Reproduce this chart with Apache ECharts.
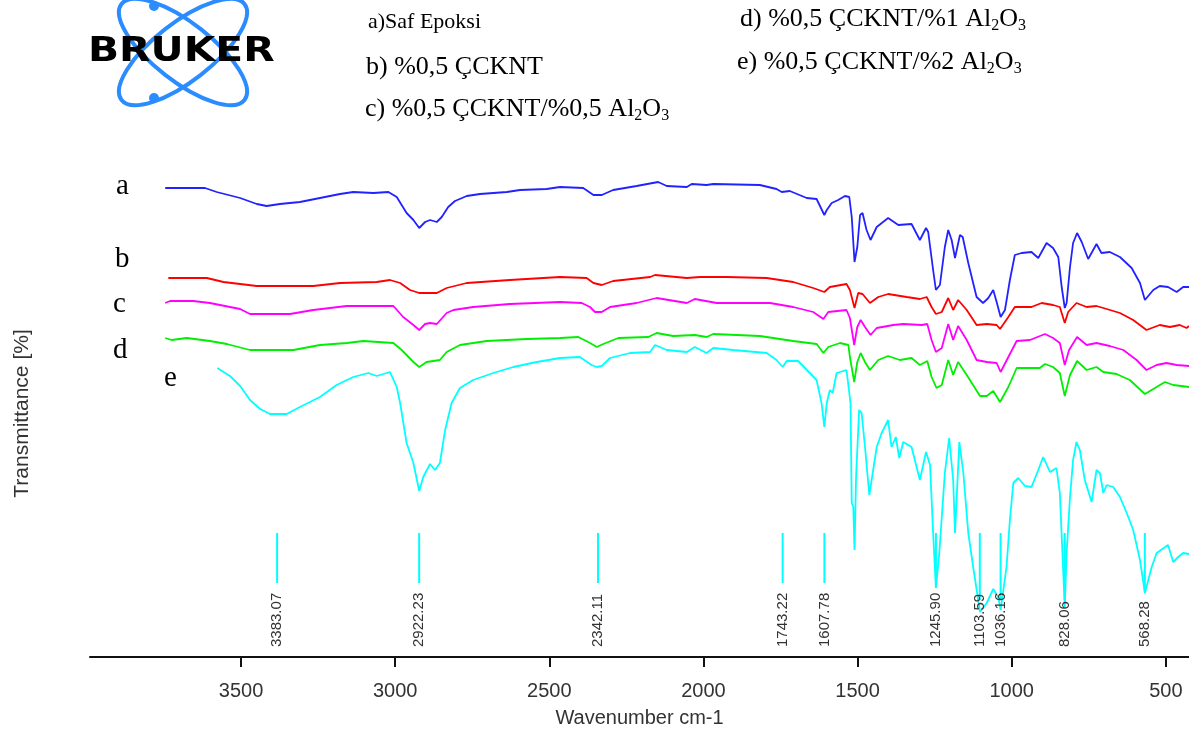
<!DOCTYPE html>
<html>
<head>
<meta charset="utf-8">
<script src="https://cdn.jsdelivr.net/npm/echarts@6/dist/echarts.min.js"></script>
<style>
html,body{margin:0;padding:0;background:#fff;}
#chart{width:1189px;height:737px;}
</style>
</head>
<body>
<div id="chart"></div>
<script>
// ---- DATA (wavenumber cm-1, transmittance in arbitrary plot units) ----
const seriesA = [[3746,469],[3617,469],[3579,465],[3503,459],[3449,453],[3417,451],[3374,453],[3309,455],[3244,459],[3179,463],[3136,465],[3071,464],[3022,465],[2995,460],[2979,452],[2963,444],[2941,437],[2922,429],[2903,435],[2887,437],[2865,435],[2849,440],[2828,450],[2806,456],[2768,461],[2725,463],[2638,465],[2595,467],[2509,468],[2465,470],[2390,469],[2357,462],[2330,462],[2293,467],[2217,471],[2147,475],[2119,471],[2054,470],[2038,473],[1990,472],[1968,473],[1817,472],[1763,468],[1746,465],[1720,466],[1665,459],[1633,458],[1608,442],[1600,447],[1584,454],[1563,457],[1541,461],[1527,460],[1519,440],[1510,395],[1501,410],[1492,442],[1484,444],[1471,427],[1458,417],[1438,430],[1401,439],[1368,432],[1325,433],[1298,417],[1278,429],[1271,425],[1255,387],[1246,367],[1233,372],[1217,410],[1206,427],[1195,417],[1184,399],[1168,422],[1159,420],[1141,394],[1114,360],[1093,354],[1076,359],[1060,367],[1049,355],[1036,340],[1022,347],[1006,377],[990,402],[968,404],[936,405],[914,399],[887,414],[866,409],[849,400],[838,370],[828,349],[822,354],[811,390],[801,414],[788,424],[773,415],[752,398],[725,413],[709,404],[682,405],[649,400],[611,389],[584,374],[568,357],[541,367],[520,371],[493,370],[465,365],[444,370],[425,370]];
const seriesB = [[3736,379],[3611,379],[3557,375],[3449,371],[3266,371],[3179,374],[3060,375],[3017,377],[2984,374],[2952,367],[2922,364],[2865,364],[2833,369],[2768,374],[2628,377],[2465,380],[2379,379],[2357,374],[2330,372],[2293,376],[2173,380],[2157,382],[2054,379],[2011,380],[1925,380],[1795,379],[1709,375],[1644,369],[1608,365],[1590,370],[1536,373],[1525,367],[1510,349],[1498,364],[1484,363],[1460,354],[1433,360],[1401,363],[1341,360],[1298,358],[1276,360],[1260,350],[1246,343],[1227,345],[1206,359],[1190,347],[1174,357],[1146,347],[1114,332],[1081,333],[1049,332],[1038,328],[1011,340],[990,350],[936,350],[903,354],[866,352],[844,350],[828,334],[817,345],[790,354],[757,350],[725,351],[692,348],[649,344],[606,337],[563,327],[520,332],[487,330],[455,332],[433,329],[425,331]];
const seriesC = [[3746,354],[3730,356],[3655,356],[3601,354],[3503,348],[3471,343],[3341,343],[3266,347],[3157,351],[3006,351],[2974,340],[2941,332],[2922,327],[2903,333],[2887,334],[2865,333],[2833,344],[2811,347],[2747,350],[2628,353],[2465,355],[2395,354],[2368,350],[2352,345],[2330,345],[2303,350],[2217,354],[2152,359],[2054,354],[2028,358],[1957,354],[1784,354],[1709,350],[1644,345],[1611,338],[1595,345],[1536,347],[1525,339],[1511,312],[1501,330],[1490,337],[1476,330],[1458,322],[1438,329],[1384,332],[1352,333],[1292,332],[1274,333],[1260,317],[1246,305],[1227,309],[1206,333],[1190,317],[1174,331],[1146,317],[1114,297],[1081,295],[1049,294],[1036,285],[1011,300],[984,316],[941,317],[892,323],[866,319],[844,314],[828,292],[814,307],[788,320],[757,312],[725,314],[682,311],[638,307],[595,297],[563,287],[530,292],[498,294],[465,292],[425,291]];
const seriesD = [[3746,319],[3725,317],[3676,319],[3601,316],[3546,313],[3471,307],[3330,307],[3244,312],[3157,314],[3103,316],[3006,314],[2979,307],[2941,295],[2922,290],[2898,295],[2855,297],[2833,305],[2790,312],[2703,316],[2573,318],[2465,319],[2406,320],[2368,314],[2346,310],[2325,313],[2276,319],[2179,320],[2152,324],[2098,321],[2028,322],[1990,320],[1968,323],[1817,321],[1709,316],[1633,313],[1611,304],[1595,310],[1557,314],[1530,312],[1525,300],[1511,275],[1501,295],[1490,304],[1476,295],[1460,287],[1433,297],[1401,301],[1363,297],[1325,299],[1298,292],[1274,296],[1260,280],[1244,269],[1227,272],[1206,297],[1190,282],[1174,295],[1146,282],[1103,261],[1081,261],[1060,266],[1038,255],[1011,270],[984,289],[909,289],[892,293],[866,290],[844,284],[828,261],[811,282],[788,296],[757,287],[725,290],[703,285],[660,283],[617,277],[568,263],[530,270],[503,275],[476,272],[425,270]];
const seriesE = [[3577,289],[3536,281],[3503,271],[3471,257],[3438,248],[3406,243],[3383,243],[3352,243],[3309,250],[3244,260],[3190,272],[3136,280],[3087,284],[3060,281],[3017,285],[2995,270],[2984,254],[2963,214],[2941,194],[2922,166],[2909,180],[2887,193],[2871,187],[2855,194],[2838,227],[2817,254],[2790,269],[2747,277],[2682,284],[2617,290],[2541,295],[2465,299],[2401,300],[2363,292],[2346,290],[2330,291],[2303,299],[2238,304],[2173,305],[2157,312],[2119,307],[2054,305],[2028,310],[1990,304],[1968,309],[1903,307],[1795,304],[1763,297],[1743,290],[1730,296],[1693,296],[1633,277],[1617,254],[1608,230],[1600,254],[1590,267],[1581,264],[1568,284],[1536,287],[1523,254],[1519,154],[1514,150],[1510,107],[1505,180],[1495,247],[1487,244],[1476,210],[1462,162],[1451,184],[1438,210],[1422,224],[1401,237],[1390,210],[1376,220],[1365,199],[1352,215],[1325,210],[1298,177],[1278,205],[1265,192],[1255,124],[1246,69],[1235,104],[1217,184],[1203,219],[1190,177],[1184,124],[1170,215],[1157,184],[1141,124],[1125,90],[1103,45],[1081,54],[1060,68],[1044,60],[1036,47],[1017,90],[1006,137],[995,174],[979,179],[957,171],[936,170],[914,187],[898,200],[876,185],[855,189],[844,164],[828,50],[822,104],[811,160],[801,197],[790,215],[779,207],[763,177],[741,155],[725,187],[714,184],[703,164],[692,172],[671,170],[649,160],[627,144],[606,127],[584,97],[568,64],[546,90],[530,104],[493,112],[476,95],[460,100],[444,104],[425,103]];
const peakWavenumbers = [3383.07, 2922.23, 2342.11, 1743.22, 1607.78, 1245.90, 1103.59, 1036.16, 828.06, 568.28];
const xTickValues = [500, 1000, 1500, 2000, 2500, 3000, 3500];
const seriesLetters = ['a', 'b', 'c', 'd', 'e'];
const legendTexts = [
  {id: 'a', parts: [['n', 'a)Saf Epoksi']]},
  {id: 'b', parts: [['n', 'b) %0,5 ÇCKNT']]},
  {id: 'c', parts: [['n', 'c) %0,5 ÇCKNT/%0,5 Al'], ['s', '2'], ['n', 'O'], ['s', '3']]},
  {id: 'd', parts: [['n', 'd) %0,5 ÇCKNT/%1 Al'], ['s', '2'], ['n', 'O'], ['s', '3']]},
  {id: 'e', parts: [['n', 'e) %0,5 ÇCKNT/%2 Al'], ['s', '2'], ['n', 'O'], ['s', '3']]}
];
const xAxisTitle = 'Wavenumber cm-1';
const yAxisTitle = 'Transmittance [%]';
const logoText = 'BRUKER';

// ---- LAYOUT / STYLE ----
const X_MIN = 425, X_MAX = 3990, Y_MIN = 0, Y_MAX = 487;
const MARK_TOP = 124, MARK_BOTTOM = 74, MARK_LOWEST = 57, LABEL_BASE = 10;
const COLORS = ['#2222ff', '#ff0000', '#ff00ff', '#00ee00', '#00ffff'];
const allSeries = [seriesA, seriesB, seriesC, seriesD, seriesE];

function traceValueAt(data, w) {
  for (let i = 0; i < data.length - 1; i++) {
    const p = data[i], q = data[i + 1];
    if ((w <= p[0] && w >= q[0])) {
      const t = (p[0] - w) / (p[0] - q[0] || 1);
      return p[1] + (q[1] - p[1]) * t;
    }
  }
  return Infinity;
}

const serif = '"Liberation Serif", "Times New Roman", serif';
const sans = '"Liberation Sans", Arial, sans-serif';

// legend text graphics
const legendPos = {
  a: {x: 368, y: 7, size: 22},
  b: {x: 366, y: 52, size: 26},
  c: {x: 365, y: 94, size: 26},
  d: {x: 740, y: 4, size: 26},
  e: {x: 737, y: 47, size: 26}
};
const legendGraphics = legendTexts.map(function (lt) {
  const p = legendPos[lt.id];
  const txt = lt.parts.map(function (pt) { return '{' + pt[0] + '|' + pt[1] + '}'; }).join('');
  return {
    type: 'text', x: p.x, y: p.y, silent: true,
    style: {
      text: txt, align: 'left', verticalAlign: 'top', fill: '#000',
      rich: {
        n: {fontFamily: serif, fontSize: p.size, lineHeight: 30, fill: '#000'},
        s: {fontFamily: serif, fontSize: 16, lineHeight: 16, verticalAlign: 'bottom', fill: '#000'}
      }
    }
  };
});

const letterPos = [[116, 186], [115, 259], [113, 304], [113, 350], [164, 378]];
const letterGraphics = seriesLetters.map(function (l, i) {
  return {
    type: 'text', x: letterPos[i][0], y: letterPos[i][1], silent: true,
    style: {text: l, font: '29px ' + serif, fill: '#000', align: 'left', verticalAlign: 'middle'}
  };
});

const logoGraphics = [
  {type: 'ellipse', shape: {cx: 0, cy: 0, rx: 78, ry: 29}, x: 183, y: 52, rotation: 38 * Math.PI / 180,
    style: {fill: 'none', stroke: '#2a8cff', lineWidth: 4}, silent: true},
  {type: 'ellipse', shape: {cx: 0, cy: 0, rx: 78, ry: 29}, x: 183, y: 52, rotation: -38 * Math.PI / 180,
    style: {fill: 'none', stroke: '#2a8cff', lineWidth: 4}, silent: true},
  {type: 'circle', shape: {cx: 154, cy: 6, r: 5}, style: {fill: '#2a8cff'}, silent: true},
  {type: 'circle', shape: {cx: 154, cy: 98, r: 5}, style: {fill: '#2a8cff'}, silent: true},
  {type: 'text', x: 88, y: 52, scaleX: 1.2, silent: true,
    style: {text: logoText, font: 'bold 34px "DejaVu Sans", sans-serif', fill: '#000', align: 'left', verticalAlign: 'middle'}}
];

const chart = echarts.init(document.getElementById('chart'), null, {renderer: 'canvas'});

const lineSeries = allSeries.map(function (d, i) {
  return {
    type: 'line', data: d, showSymbol: false, symbol: 'none', silent: true,
    lineStyle: {color: COLORS[i], width: 1.8}, itemStyle: {color: COLORS[i]}, z: 3
  };
});

const peakSeries = {
  type: 'custom', silent: true, z: 4,
  data: peakWavenumbers.map(function (w, i) { return [w, i]; }),
  renderItem: function (params, api) {
    const w = api.value(0);
    const i = api.value(1);
    const eVal = traceValueAt(seriesE, w);
    const bottomVal = Math.max(MARK_LOWEST, Math.min(MARK_BOTTOM, eVal));
    const top = api.coord([w, MARK_TOP]);
    const bot = api.coord([w, bottomVal]);
    const lab = api.coord([w, LABEL_BASE]);
    return {
      type: 'group',
      children: [
        {type: 'line', shape: {x1: top[0], y1: top[1], x2: bot[0], y2: bot[1]},
          style: {stroke: '#00ffff', lineWidth: 2}},
        {type: 'text', x: lab[0], y: lab[1], rotation: Math.PI / 2,
          style: {text: peakWavenumbers[i].toFixed(2), font: '15px ' + sans, fill: '#333',
            align: 'left', verticalAlign: 'middle'}}
      ]
    };
  }
};

chart.setOption({
  animation: false,
  backgroundColor: '#fff',
  grid: {left: 90, right: 0, top: 170, bottom: 80, containLabel: false},
  xAxis: {
    type: 'value', min: X_MIN, max: X_MAX, inverse: true,
    axisLine: {show: true, lineStyle: {color: '#111', width: 2}},
    axisTick: {show: true, length: 10, lineStyle: {color: '#111', width: 2}, customValues: xTickValues},
    axisLabel: {show: true, customValues: xTickValues, fontSize: 20, color: '#333', fontFamily: sans, margin: 24,
      formatter: function (v) { return String(v); }},
    splitLine: {show: false},
    name: xAxisTitle, nameLocation: 'middle', nameGap: 51,
    nameTextStyle: {fontSize: 20, color: '#333', fontFamily: sans}
  },
  yAxis: {
    type: 'value', min: Y_MIN, max: Y_MAX,
    axisLine: {show: false}, axisTick: {show: false}, axisLabel: {show: false}, splitLine: {show: false},
    name: yAxisTitle, nameLocation: 'middle', nameRotate: 90, nameGap: 57,
    nameTextStyle: {fontSize: 21, color: '#333', fontFamily: sans}
  },
  graphic: {elements: logoGraphics.concat(legendGraphics, letterGraphics)},
  series: lineSeries.concat([peakSeries])
});
</script>
</body>
</html>
